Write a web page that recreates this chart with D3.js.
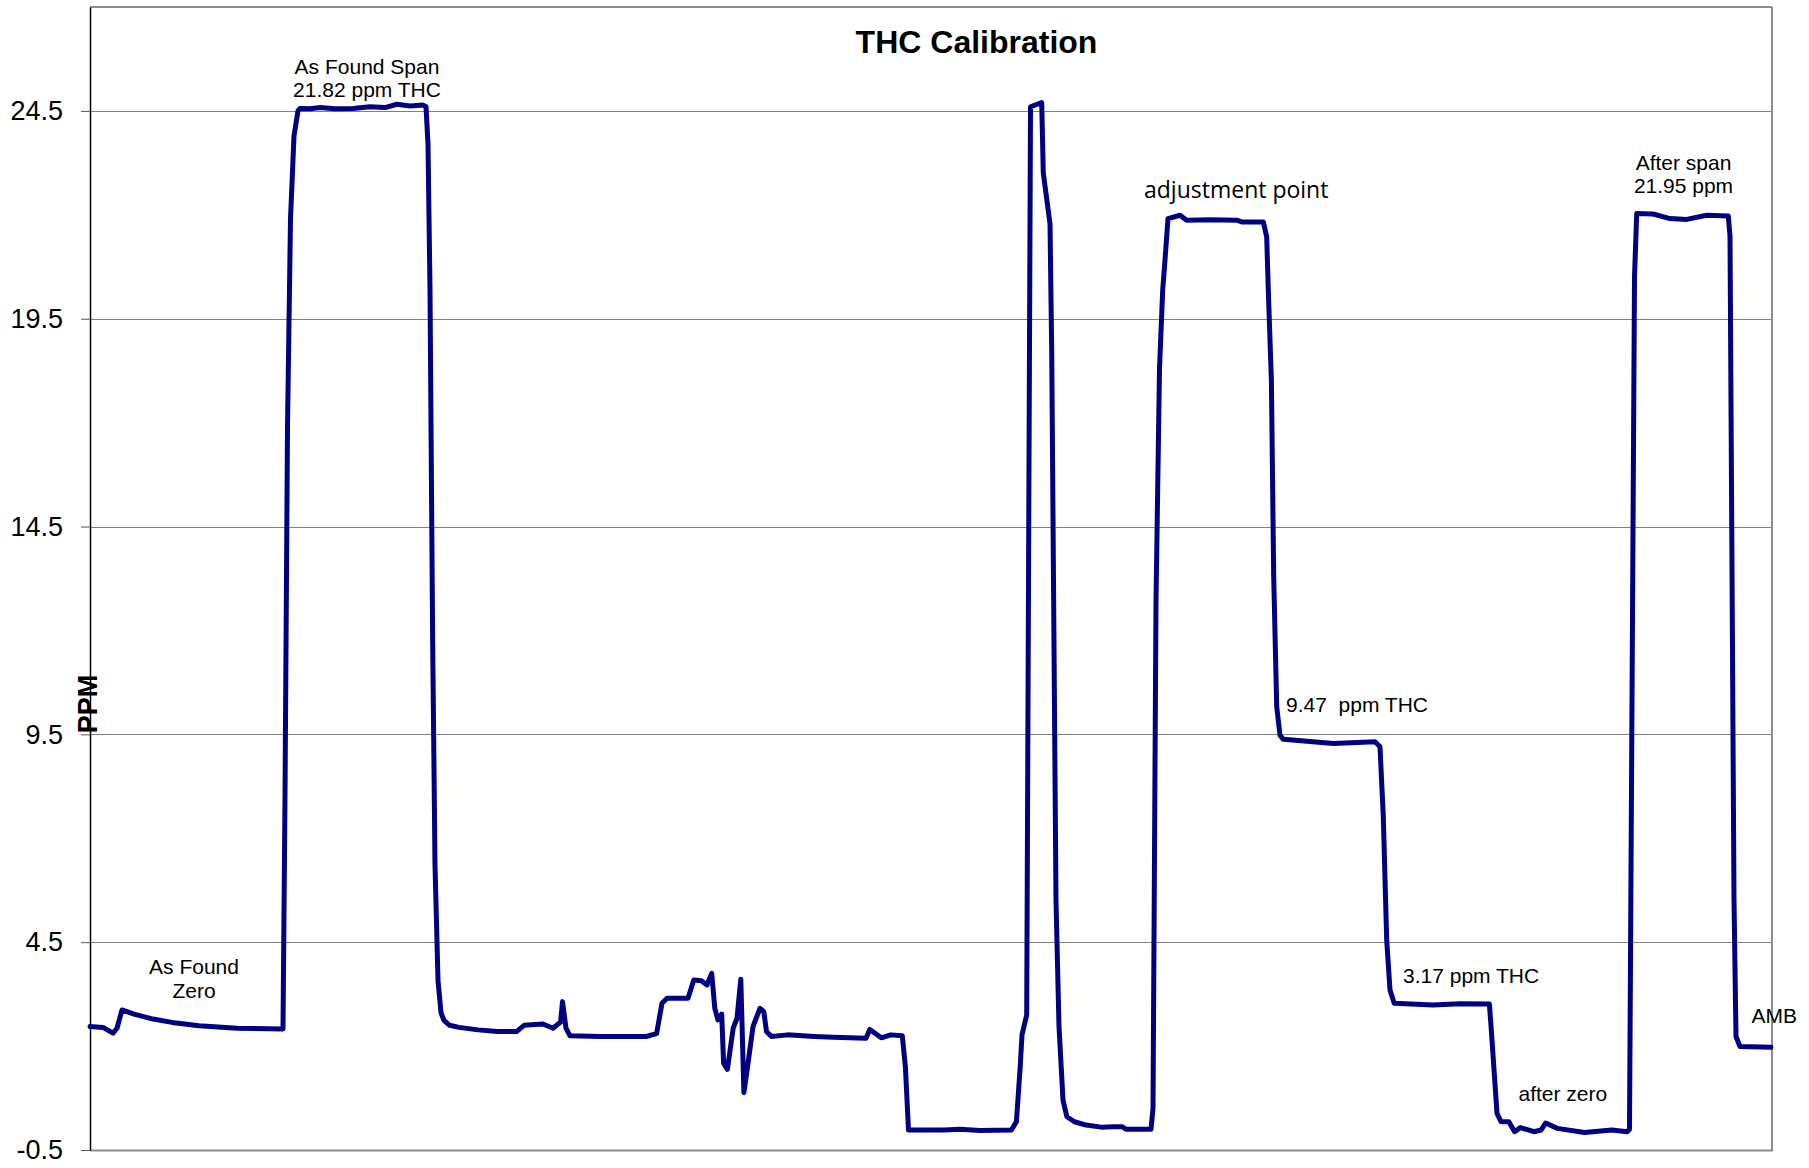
<!DOCTYPE html>
<html>
<head>
<meta charset="utf-8">
<script src="https://cdn.jsdelivr.net/npm/d3@7/dist/d3.min.js"></script>
<style>
  html, body { margin: 0; padding: 0; background: #ffffff; }
  svg { display: block; }
  text { font-family: "Liberation Sans", Arial, sans-serif; fill: #000; }
</style>
</head>
<body>
<svg id="chart" width="1809" height="1168"></svg>
<script>
// ---- Data ----
const chartTitle = "THC Calibration";
const yAxisTitle = "PPM";
const yTickValues = [-0.5, 4.5, 9.5, 14.5, 19.5, 24.5];
const yTickLabels = ["-0.5", "4.5", "9.5", "14.5", "19.5", "24.5"];
const yDomain = [-0.5, 27];
const xDomain = [0, 1682];

// sample position along the run
const sampleIndex = [
  0, 13, 23, 27, 32, 44, 63, 82, 109, 147, 192,
  193, 195, 197.5, 200.5, 204, 208, 210, 220, 230, 245, 263, 280, 295, 307, 320, 333, 336,
  338, 340, 342.6, 345, 348, 351, 354, 359.6, 369, 388, 407.5, 426.6, 434, 453, 463, 470.6, 472.5, 476, 480,
  510, 556, 566.6, 572, 577, 598, 603.8, 611.4, 617, 621.7, 624.8, 627.9, 631.7, 633.6, 637.4,
  643.2, 647, 650.8, 653.9, 658.5, 663, 670, 673.8, 676.5, 681.4, 697.5, 724.3, 743.4, 776,
  779.8, 791.3, 800.8, 812.3, 815.4, 818.5, 854.4, 870, 890, 921.4, 926.4, 930.2, 932, 936.7,
  940.5, 951.7, 953.3, 960, 961.7, 966, 969, 973, 976.9, 984.5, 996, 1011, 1022.8, 1032.4, 1036,
  1061, 1063, 1066, 1069.5, 1072.7, 1075, 1078, 1090, 1096.7, 1120, 1146.7, 1151.7, 1173.3,
  1176.7, 1178.3, 1181.4, 1183.7, 1186.7, 1190, 1193.3, 1220, 1243.3, 1285, 1290, 1293.3, 1296.7,
  1300, 1304.2, 1343, 1370, 1399.4, 1401.3, 1407, 1411, 1418.8, 1424.6, 1430.4, 1444, 1451,
  1455.7, 1467.3, 1494.5, 1521.7, 1537.2, 1539.5, 1544.5, 1546.7, 1563, 1580, 1596.7, 1616.7,
  1638.3, 1640, 1644, 1646, 1650, 1681
];
const ppm = [
  2.47, 2.45, 2.31, 2.43, 2.87, 2.77, 2.65, 2.57, 2.49, 2.43, 2.41,
  2.41, 8.0, 16.9, 21.9, 23.9, 24.5, 24.56, 24.55, 24.58, 24.55, 24.56, 24.6, 24.58, 24.66, 24.62, 24.64, 24.6,
  23.7, 20.2, 11.9, 6.36, 3.58, 2.8, 2.62, 2.5, 2.45, 2.39, 2.35, 2.35, 2.5, 2.53, 2.43, 2.58, 3.07, 2.43, 2.25,
  2.23, 2.23, 2.30, 3.03, 3.15, 3.15, 3.59, 3.57, 3.47, 3.75, 2.91, 2.63, 2.77, 1.59, 1.44,
  2.43, 2.67, 3.61, 0.88, 1.67, 2.47, 2.91, 2.83, 2.35, 2.23, 2.27, 2.23, 2.21, 2.19,
  2.40, 2.20, 2.27, 2.25, 1.50, -0.02, -0.02, 0.0, -0.03, -0.02, 0.18, 1.50, 2.27, 2.75,
  24.6, 24.7, 23.0, 21.79, 18.75, 5.5, 2.47, 0.7, 0.30, 0.18, 0.10, 0.05, 0.06, 0.06, 0.0,
  0.0, 0.5, 12.7, 18.3, 20.19, 20.91, 21.91, 21.99, 21.87, 21.88, 21.87, 21.83, 21.83,
  21.47, 20.19, 18.0, 13.3, 10.17, 9.48, 9.38, 9.33, 9.28, 9.32, 9.2, 7.52, 4.55,
  3.35, 3.03, 2.99, 3.02, 3.01, 2.39, 0.38, 0.18, 0.18, -0.06, 0.04, -0.06, -0.02,
  0.15, 0.02, -0.08, -0.02, -0.06, 0.0, 20.5, 22.03, 22.02, 21.91, 21.89, 21.99,
  21.97, 21.5, 5.52, 2.23, 1.99, 1.97
];

// annotations: text lines, anchor sample/value positions
const annotations = [
  { lines: ["As Found Span", "21.82 ppm THC"], t: 277, v: 25.4, anchor: "middle", font: "arial" },
  { lines: ["As Found", "Zero"], t: 104, v: 3.73, anchor: "middle", font: "arial" },
  { lines: ["adjustment point"], t: 1054, v: 22.4, anchor: "start", font: "calibri" },
  { lines: ["9.47  ppm THC"], t: 1196, v: 10.05, anchor: "start", font: "arial" },
  { lines: ["3.17 ppm THC"], t: 1313, v: 3.52, anchor: "start", font: "arial" },
  { lines: ["after zero"], t: 1428.5, v: 0.68, anchor: "start", font: "arial" },
  { lines: ["AMB"], t: 1661.5, v: 2.56, anchor: "start", font: "arial" },
  { lines: ["After span", "21.95 ppm"], t: 1593.5, v: 23.08, anchor: "middle", font: "arial" }
];

// ---- Layout ----
const svg = d3.select("#chart");
const plot = { left: 90, right: 1772, top: 7, bottom: 1150 };

const x = d3.scaleLinear().domain(xDomain).range([plot.left, plot.right]);
const y = d3.scaleLinear().domain(yDomain).range([plot.bottom, plot.top]);

// gridlines
const grid = svg.append("g")
  .attr("transform", `translate(${plot.left},0)`)
  .call(d3.axisLeft(y).tickValues(yTickValues).tickSize(-(plot.right - plot.left)).tickFormat(""));
grid.select(".domain").remove();
grid.selectAll("line").attr("stroke", "#808080").attr("stroke-width", 1).attr("shape-rendering", "crispEdges");

// plot border (top, right, bottom)
svg.append("line").attr("x1", plot.left).attr("x2", plot.right).attr("y1", plot.top).attr("y2", plot.top)
  .attr("stroke", "#8c8c8c").attr("stroke-width", 2);
svg.append("line").attr("x1", plot.right).attr("x2", plot.right).attr("y1", plot.top).attr("y2", plot.bottom + 1)
  .attr("stroke", "#8c8c8c").attr("stroke-width", 2);
svg.append("line").attr("x1", plot.left).attr("x2", plot.right + 1).attr("y1", plot.bottom + 0.5).attr("y2", plot.bottom + 0.5)
  .attr("stroke", "#8c8c8c").attr("stroke-width", 2);

// y axis
const yAxis = svg.append("g")
  .attr("transform", `translate(${plot.left},0)`)
  .call(d3.axisLeft(y).tickValues(yTickValues).tickSize(9).tickSizeOuter(0).tickPadding(18)
    .tickFormat((d, i) => yTickLabels[i]));
yAxis.select(".domain").attr("stroke", "#000").attr("stroke-width", 1.5);
yAxis.selectAll(".tick line").attr("stroke", "#555").attr("stroke-width", 1);
yAxis.selectAll(".tick text")
  .attr("font-family", "'Liberation Sans', Arial, sans-serif")
  .attr("font-size", 27).attr("fill", "#000");

// data line
const pts = sampleIndex.map((t, i) => [t, ppm[i]]);
const line = d3.line().x(d => x(d[0])).y(d => y(d[1]));
svg.append("path").datum(pts)
  .attr("d", line)
  .attr("fill", "none")
  .attr("stroke", "#000080")
  .attr("stroke-width", 5)
  .attr("stroke-linejoin", "round")
  .attr("stroke-linecap", "round");

// title
svg.append("text")
  .attr("x", 976.5).attr("y", 52.5)
  .attr("text-anchor", "middle")
  .attr("font-size", 32).attr("font-weight", "bold")
  .text(chartTitle);

// y axis title
svg.append("text")
  .attr("transform", "translate(96.5,704) rotate(-90)")
  .attr("text-anchor", "middle")
  .attr("font-size", 27).attr("font-weight", "bold")
  .text(yAxisTitle);

// annotations
annotations.forEach(a => {
  const t = svg.append("text")
    .attr("text-anchor", a.anchor)
    .attr("font-size", a.font === "calibri" ? 23 : 21)
    .style("font-family", a.font === "calibri" ? "'Open Sans', 'Noto Sans', sans-serif" : "'Liberation Sans', Arial, sans-serif")
    .style("white-space", "pre")
    .attr("fill", "#111");
  a.lines.forEach((ln, i) => {
    t.append("tspan")
      .attr("x", x(a.t))
      .attr("y", y(a.v) + i * 23.5)
      .text(ln);
  });
});
</script>
</body>
</html>
